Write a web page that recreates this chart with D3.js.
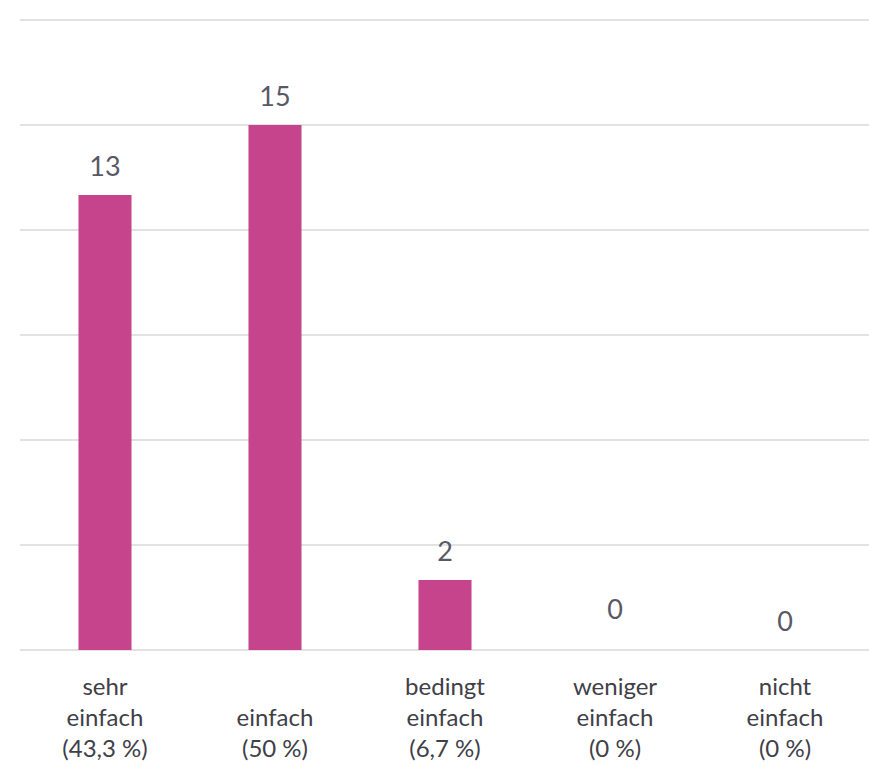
<!DOCTYPE html>
<html>
  <head>
    <meta charset="utf-8">
    <title>Bewertung</title>
    <style>
      body { margin: 0; background: #fff; }
      text { font-family: Lato, "Open Sans", sans-serif; }
    </style>
    <script src="https://unpkg.com/d3@7/dist/d3.min.js"></script>
  </head>
  <body>
    <script>
      // chart data
      const categories = ['sehr einfach', 'einfach', 'bedingt einfach', 'weniger einfach', 'nicht einfach'];
      const categoryLines = [
        ['sehr', 'einfach', '(43,3 %)'],
        ['einfach', '(50 %)'],
        ['bedingt', 'einfach', '(6,7 %)'],
        ['weniger', 'einfach', '(0 %)'],
        ['nicht', 'einfach', '(0 %)']
      ];
      const counts = [13, 15, 2, 0, 0];
      const gridTicks = [0, 3, 6, 9, 12, 15, 18];

      const width = 869;
      const height = 764;
      const barColor = '#c6448c';

      const svg = d3.select('body')
        .append('svg')
        .attr('width', width)
        .attr('height', height);

      const x = d3.scaleBand()
        .domain(categories)
        .range([20, 870])
        .paddingInner(0.688)
        .paddingOuter(0.344);

      const y = d3.scaleLinear()
        .domain([0, 18])
        .range([650, 20]);

      // gridlines
      svg.append('g')
        .selectAll('line')
        .data(gridTicks)
        .join('line')
        .attr('x1', 20)
        .attr('x2', width)
        .attr('y1', d => y(d))
        .attr('y2', d => y(d))
        .attr('stroke', '#d9d9d9')
        .attr('stroke-width', 1.5);

      // bars
      svg.append('g')
        .selectAll('rect')
        .data(counts)
        .join('rect')
        .attr('x', (d, i) => x(categories[i]))
        .attr('y', d => y(d))
        .attr('width', x.bandwidth())
        .attr('height', d => y(0) - y(d))
        .attr('fill', barColor);

      // value labels (the "weniger" zero sits a bit higher in the original)
      svg.append('g')
        .selectAll('text')
        .data(counts)
        .join('text')
        .attr('x', (d, i) => x(categories[i]) + x.bandwidth() / 2)
        .attr('y', (d, i) => y(d) - (i === 3 ? 31 : 19))
        .attr('text-anchor', 'middle')
        .attr('fill', '#595966')
        .style('font-size', '27px')
        .text(d => d);

      // category labels, bottom aligned
      const cat = svg.append('g')
        .selectAll('text')
        .data(categoryLines)
        .join('text')
        .attr('text-anchor', 'middle')
        .attr('fill', '#404048')
        .style('font-size', '24px');

      cat.each(function (lines, i) {
        const cx = x(categories[i]) + x.bandwidth() / 2;
        const start = 3 - lines.length;
        d3.select(this).selectAll('tspan')
          .data(lines)
          .join('tspan')
          .attr('x', cx)
          .attr('y', (d, j) => 695 + (start + j) * 31)
          .text(d => d);
      });
    </script>
  </body>
</html>
